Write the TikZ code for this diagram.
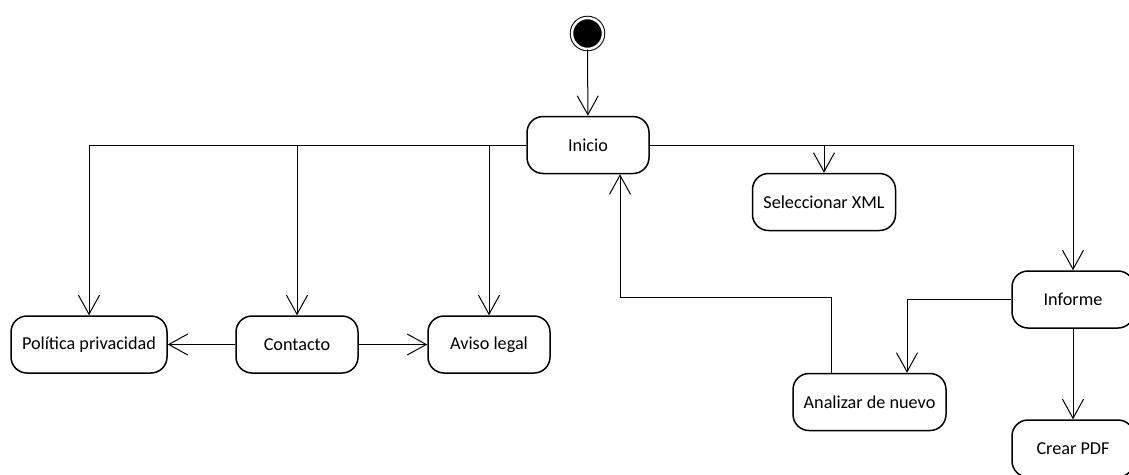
\documentclass[tikz,border=0pt]{standalone}
\usepackage{fontspec}
\setmainfont{Carlito}
\usetikzlibrary{arrows.meta}
\begin{document}
\begin{tikzpicture}[x=1pt,y=-1pt,
  state/.style={draw, line width=1.5pt, rounded corners=16pt, minimum height=57pt,
    inner sep=0pt, font=\fontsize{18.2}{22}\selectfont},
  flow/.style={line width=1pt, -{Straight Barb[length=19pt,width=21pt,line width=1pt]}}]
\useasboundingbox (0,0) rectangle (1129,474);
\fill[white] (0,0) rectangle (1129,474);

% start point
\node (init) [circle, fill=black, draw=black, double=white, double distance=2.5pt,
  line width=1pt, minimum size=31pt, inner sep=0pt] at (587.5,33.5) {};

% states
\node (inicio)   [state, minimum width=122pt] at (588,145)   {Inicio};
\node (pol)      [state, minimum width=156pt] at (89,344.5)  {Política privacidad};
\node (contacto) [state, minimum width=122pt] at (297,344.5) {Contacto};
\node (aviso)    [state, minimum width=122pt] at (489,344.5) {Aviso legal};
\node (sel)      [state, minimum width=143pt] at (824,202)   {Seleccionar XML};
\node (informe)  [state, minimum width=122pt] at (1073,299.5){Informe};
\node (analizar) [state, minimum width=153pt] at (869.5,402) {Analizar de nuevo};
\node (crear)    [state, minimum width=122pt] at (1073,448.5){Crear PDF};

% bend points
\coordinate (back) at (831,297);
\coordinate (ret)  at (620,297);
\coordinate (redo) at (907,299.5);

\draw[flow] (init) -- (inicio);
\draw[flow] (inicio.west) -| (pol.north);
\draw[flow] (inicio.west) -| (contacto.north);
\draw[flow] (inicio.west) -| (aviso.north);
\draw[flow] (inicio.east) -| (sel.north);
\draw[flow] (inicio.east) -| (informe.north);
\draw[flow] (contacto) -- (pol);
\draw[flow] (contacto) -- (aviso);
\draw[flow] (back |- analizar.north) -- (back) -- (ret) -- (ret |- inicio.south);
\draw[flow] (informe.west) -- (redo) -- (redo |- analizar.north);
\draw[flow] (informe) -- (crear);
\end{tikzpicture}
\end{document}
